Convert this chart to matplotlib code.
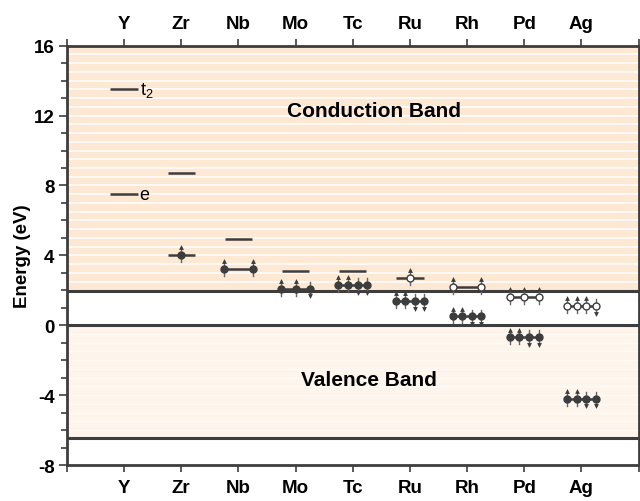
import matplotlib
matplotlib.use('Agg')
import matplotlib.pyplot as plt
import numpy as np

plt.rcParams['font.family'] = ['Liberation Sans', 'DejaVu Sans']
plt.rcParams['mathtext.fontset'] = 'custom'
plt.rcParams['mathtext.rm'] = 'Liberation Sans'
plt.rcParams['axes.unicode_minus'] = False

# 数据
elements = ['Y', 'Zr', 'Nb', 'Mo', 'Tc', 'Ru', 'Rh', 'Pd', 'Ag']
upper_energy = [13.5, 8.7, 4.95, 3.1, 3.1, 2.7, 2.2, 1.6, 1.1]
lower_energy = [7.5, 4.0, 3.2, 2.1, 2.3, 1.4, 0.5, -0.7, -4.2]
upper_spins = [[], [], [], [], [], ['u'], ['u', 'u'], ['u', 'u', 'u'], ['u', 'u', 'u', 'd']]
lower_spins = [[], ['u'], ['u', 'u'], ['u', 'u', 'd'], ['u', 'u', 'd', 'd'],
               ['u', 'u', 'd', 'd'], ['u', 'u', 'd', 'd'], ['u', 'u', 'd', 'd'], ['u', 'u', 'd', 'd']]
cb_edge = 1.95
vb_top = 0.0
vb_bottom = -6.45

dark = '#3d3d3d'
arrow_c = '#666666'

fig = plt.figure(figsize=(6.4, 5.02), dpi=100)
ax = fig.add_axes([0.1047, 0.0717, 0.8930, 0.8353])
ax.set_xlim(0, 10)
ax.set_ylim(-8, 16)

# 能带背景
ax.axhspan(cb_edge, 16, color='#fde8d3', lw=0, zorder=0)
ax.axhspan(vb_bottom, vb_top, color='#fdf5ec', lw=0, zorder=0)
ax.hlines(np.arange(2.5, 16, 0.5), 0, 10, color='white', lw=1.1, zorder=1)
ax.hlines(np.arange(vb_bottom + 0.45, vb_top, 0.5), 0, 10, color='#fffaf6', lw=1.0, zorder=1)
for y in [cb_edge, vb_top, vb_bottom]:
    ax.axhline(y, color=dark, lw=2.2, zorder=2)

ax.text(5.38, 12.3, 'Conduction Band', ha='center', va='center', fontsize=15, fontweight='bold', zorder=3)
ax.text(5.28, -3.1, 'Valence Band', ha='center', va='center', fontsize=15, fontweight='bold', zorder=3)


def draw_level(xc, e, spins, filled):
    ax.plot([xc - 0.24, xc + 0.24], [e, e], color=dark, lw=1.8, solid_capstyle='butt', zorder=4)
    n = len(spins)
    if n == 0:
        return
    xs = [xc] if n == 1 else np.linspace(-0.25, 0.25, n) + xc
    for x, s in zip(xs, spins):
        if s == 'u':
            ax.plot([x, x], [e - 0.4, e + 0.45], color=arrow_c, lw=1.0, zorder=5)
            ax.plot(x, e + 0.45, marker='^', ms=3.5, color=dark, mew=0, zorder=6)
        else:
            ax.plot([x, x], [e - 0.45, e + 0.4], color=arrow_c, lw=1.0, zorder=5)
            ax.plot(x, e - 0.45, marker='v', ms=3.5, color=dark, mew=0, zorder=6)
        ax.plot(x, e, marker='o', ms=5, mfc=dark if filled else 'white',
                mec=dark, mew=1.0, zorder=7)


for i, el in enumerate(elements):
    xc = i + 1
    draw_level(xc, upper_energy[i], upper_spins[i], False)
    draw_level(xc, lower_energy[i], lower_spins[i], True)

ax.text(1.27, upper_energy[0], r'$\mathregular{t_2}$', fontsize=13, va='center', ha='left')
ax.text(1.27, lower_energy[0], 'e', fontsize=13, va='center', ha='left')

# 坐标轴
ax.set_xticks(np.arange(0, 11))
ax.set_xticklabels([''] + elements + [''])
ax.tick_params(axis='x', which='both', top=True, labeltop=True, direction='out',
               length=5, width=1.2, color=dark, labelsize=13.5, pad=5)
for t in ax.xaxis.get_major_ticks():
    t.label1.set_fontweight('bold')
    t.label2.set_fontweight('bold')
ax.set_yticks(np.arange(-8, 17, 4))
ax.set_yticks(np.arange(-8, 17, 1), minor=True)
ax.tick_params(axis='y', which='both', right=True, direction='out', color=dark, width=1.2,
               labelsize=13.5, pad=3)
ax.tick_params(axis='y', which='major', length=6)
ax.tick_params(axis='y', which='minor', length=4)
for lab in ax.get_yticklabels():
    lab.set_fontweight('bold')
for s in ax.spines.values():
    s.set_color(dark)
    s.set_linewidth(2.0)
ax.set_ylabel('Energy (eV)', fontsize=13.5, fontweight='bold', labelpad=2)

plt.savefig('out.png', dpi=100)
